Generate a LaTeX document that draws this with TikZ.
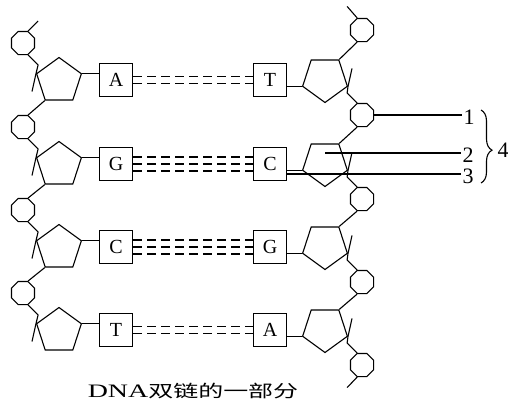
\documentclass[tikz,border=0pt]{standalone}
\usepackage{fontspec}
\setmainfont{Liberation Serif}
\newfontfamily\cjk{Noto Sans CJK SC}
\usetikzlibrary{shapes.geometric,decorations.pathreplacing}

\tikzset{
  phos/.style={draw, regular polygon, regular polygon sides=8, minimum size=25pt, inner sep=0pt},
  sugar/.style={draw, regular polygon, regular polygon sides=5, minimum size=47pt, inner sep=0pt},
  sugarrev/.style={sugar, shape border rotate=180},
  basebox/.style={draw, minimum size=33pt, inner sep=0pt, font=\fontsize{20}{20}\selectfont},
  hbond/.style={line width=1.5pt, dash pattern=on 9pt off 5pt},
  numlabel/.style={inner sep=1pt, anchor=west, font=\fontsize{22}{22}\selectfont},
}

\begin{document}
\begin{tikzpicture}[x=1pt, y=1pt, line width=1.1pt]
\useasboundingbox (0,0) rectangle (508,-405);

\node[phos] (pL1) at (23,-43) {};
\node[phos] (pL2) at (23,-127) {};
\node[phos] (pL3) at (23,-210) {};
\node[phos] (pL4) at (23,-293) {};

\node[sugar] (sL1) at (59,-81) {};
\node[sugar] (sL2) at (59,-165) {};
\node[sugar] (sL3) at (59,-248) {};
\node[sugar] (sL4) at (59,-331) {};

\node[basebox] (bL1) at (116,-80) {A};
\node[basebox] (bL2) at (116,-164) {G};
\node[basebox] (bL3) at (116,-247) {C};
\node[basebox] (bL4) at (116,-330) {T};

\node[basebox] (bR1) at (270,-80) {T};
\node[basebox] (bR2) at (270,-164) {C};
\node[basebox] (bR3) at (270,-247) {G};
\node[basebox] (bR4) at (270,-330) {A};

\node[sugarrev] (sR1) at (325,-79) {};
\node[sugarrev] (sR2) at (325,-163) {};
\node[sugarrev] (sR3) at (325,-246) {};
\node[sugarrev] (sR4) at (325,-329) {};

\node[phos] (pR0) at (362,-30) {};
\node[phos] (pR1) at (362,-115) {};
\node[phos] (pR2) at (362,-199) {};
\node[phos] (pR3) at (362,-282) {};
\node[phos] (pR4) at (362,-365) {};

\draw (pL1.67.5) -- ++(10,10);
\draw (pL1.-67.5) -- ++(10,-10) -- (sL1.162) -- ++(-4,-18);
\draw (pL2.-67.5) -- ++(10,-10) -- (sL2.162) -- ++(-4,-18);
\draw (pL3.-67.5) -- ++(10,-10) -- (sL3.162) -- ++(-4,-18);
\draw (pL4.-67.5) -- ++(10,-10) -- (sL4.162) -- ++(-4,-18);
\draw (sL1.234) -- (pL2.67.5);
\draw (sL2.234) -- (pL3.67.5);
\draw (sL3.234) -- (pL4.67.5);

\draw (sL1.18) -- (sL1.18 -| bL1.west);
\draw (sL2.18) -- (sL2.18 -| bL2.west);
\draw (sL3.18) -- (sL3.18 -| bL3.west);
\draw (sL4.18) -- (sL4.18 -| bL4.west);

\draw (sR1.198) -- (sR1.198 -| bR1.east);
\draw (sR2.198) -- (sR2.198 -| bR2.east);
\draw (sR3.198) -- (sR3.198 -| bR3.east);
\draw (sR4.198) -- (sR4.198 -| bR4.east);

\draw (pR0.112.5) -- ++(-10,11.5);
\draw (sR1.54) -- (pR0.-112.5);
\draw (sR2.54) -- (pR1.-112.5);
\draw (sR3.54) -- (pR2.-112.5);
\draw (sR4.54) -- (pR3.-112.5);
\draw (pR1.112.5) -- ++(-10,10) -- (sR1.-18) -- ++(4,18);
\draw (pR2.112.5) -- ++(-10,10) -- (sR2.-18) -- ++(4,18);
\draw (pR3.112.5) -- ++(-10,10) -- (sR3.-18) -- ++(4,18);
\draw (pR4.112.5) -- ++(-10,10) -- (sR4.-18) -- ++(4,18);
\draw (pR4.-112.5) -- ++(-10,-10.5);

\draw[hbond] ([yshift=3.5pt]bL1.east) -- ([yshift=3.5pt]bR1.west);
\draw[hbond] ([yshift=-3.5pt]bL1.east) -- ([yshift=-3.5pt]bR1.west);

\draw[hbond] ([yshift=7pt]bL2.east) -- ([yshift=7pt]bR2.west);
\draw[hbond] (bL2.east) -- (bR2.west);
\draw[hbond] ([yshift=-7pt]bL2.east) -- ([yshift=-7pt]bR2.west);

\draw[hbond] ([yshift=7pt]bL3.east) -- ([yshift=7pt]bR3.west);
\draw[hbond] (bL3.east) -- (bR3.west);
\draw[hbond] ([yshift=-7pt]bL3.east) -- ([yshift=-7pt]bR3.west);

\draw[hbond] ([yshift=3.5pt]bL4.east) -- ([yshift=3.5pt]bR4.west);
\draw[hbond] ([yshift=-3.5pt]bL4.east) -- ([yshift=-3.5pt]bR4.west);

\node[numlabel] (n1) at (462,-117.5) {1};
\node[numlabel] (n2) at (461,-155) {2};
\node[numlabel] (n3) at (461,-176) {3};
\node[numlabel] (n4) at (496,-150) {4};

\draw (pR1.east) -- (pR1.east -| n1.west);
\draw ([yshift=10pt]sR2.center) -- ([yshift=10pt]sR2.center -| n2.west);
\draw ([yshift=-10pt]bR2.east) -- ([yshift=-10pt]bR2.east -| n3.west);
\draw[decorate, decoration={brace, amplitude=11pt, aspect=0.55}] (481,-110) -- (481,-183);

\node[xscale=1.47, anchor=base] (cap) at (193,-397)
  {{\fontsize{19}{19}\selectfont DNA}{\cjk\fontsize{17}{17}\selectfont 双链的一部分}};

\end{tikzpicture}
\end{document}
